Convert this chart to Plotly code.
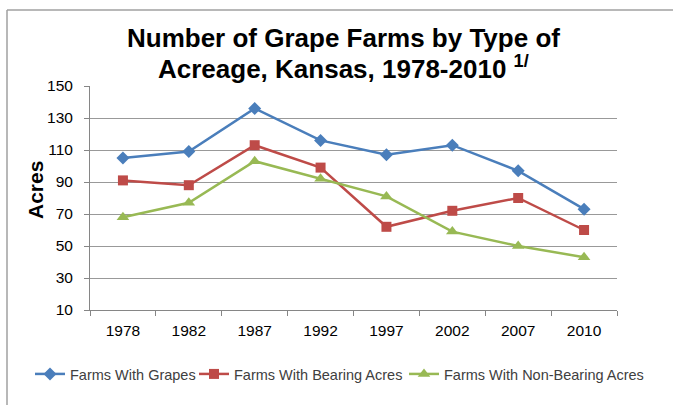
import plotly.graph_objects as go

years = ["1978", "1982", "1987", "1992", "1997", "2002", "2007", "2010"]
farms_with_grapes = [105, 109, 136, 116, 107, 113, 97, 73]
bearing_acres = [91, 88, 113, 99, 62, 72, 80, 60]
non_bearing_acres = [68, 77, 103, 92, 81, 59, 50, 43]

series = [
    ("Farms With Grapes", farms_with_grapes, "#4A7EBB", "diamond", 10, 119),
    ("Farms With Bearing Acres", bearing_acres, "#BE4B48", "square", 10, 165),
    ("Farms With Non-Bearing Acres", non_bearing_acres, "#98B954", "triangle-up", 11, 202),
]

fig = go.Figure()
for name, vals, color, sym, size, lw in series:
    fig.add_trace(go.Scatter(
        x=years, y=vals, name=name, mode="lines+markers",
        line=dict(color=color, width=2.5),
        marker=dict(symbol=sym, size=size, color=color),
        legendwidth=lw,
    ))

L, R, T, B = 90, 56, 86, 95
W, H = 673, 405
pw, ph = W - L - R, H - T - B

def px_to_x(px):
    return (px - L) / pw

def py_to_y(py):
    return (H - B - py) / ph

fig.update_layout(
    width=W, height=H,
    margin=dict(l=L, r=R, t=T, b=B, autoexpand=False),
    paper_bgcolor="white", plot_bgcolor="white",
    font=dict(family="Liberation Sans, Arial, sans-serif", color="#000000"),
    xaxis=dict(
        type="category", tickson="boundaries", ticks="outside", ticklen=5,
        tickcolor="#868686", showline=True, linecolor="#868686", linewidth=1,
        showgrid=False, tickfont=dict(size=15.5, color="#000000"),
        ticklabelstandoff=6,
        range=[-0.5, 7.5],
    ),
    yaxis=dict(
        range=[10, 150], tickvals=[10, 30, 50, 70, 90, 110, 130, 150],
        ticks="outside", ticklen=5, tickcolor="#868686",
        showline=True, linecolor="#868686", linewidth=1,
        showgrid=True, gridcolor="#999999", gridwidth=1, zeroline=False,
        tickfont=dict(size=15.5, color="#000000"),
        ticklabelstandoff=8,
    ),
    legend=dict(
        orientation="h", x=px_to_x(30), xanchor="left",
        y=py_to_y(358), yanchor="top",
        font=dict(size=14.5, color="#404040"), bgcolor="rgba(0,0,0,0)",
        itemwidth=30, tracegroupgap=0,
    ),
    showlegend=True,
)

# title (two lines, placed separately for tighter line spacing)
fig.add_annotation(
    text="<b>Number of Grape Farms by Type of</b>",
    xref="paper", yref="paper", x=px_to_x(343), y=py_to_y(38),
    xanchor="center", yanchor="middle", showarrow=False,
    font=dict(size=26, color="#000000"),
)
fig.add_annotation(
    text="<b>Acreage, Kansas, 1978-2010 <sup>1/</sup></b>",
    xref="paper", yref="paper", x=px_to_x(343), y=py_to_y(67),
    xanchor="center", yanchor="middle", showarrow=False,
    font=dict(size=26, color="#000000"),
)
# y axis title
fig.add_annotation(
    text="<b>Acres</b>", textangle=-90,
    xref="paper", yref="paper", x=px_to_x(35), y=py_to_y(190),
    xanchor="center", yanchor="middle", showarrow=False,
    font=dict(size=21, color="#000000"),
)

# chart border (left and top edges visible in the reference)
fig.add_shape(type="line", xref="paper", yref="paper",
              x0=px_to_x(7), x1=px_to_x(7), y0=py_to_y(410), y1=py_to_y(10),
              line=dict(color="#A0A0A0", width=1.5))
fig.add_shape(type="line", xref="paper", yref="paper",
              x0=px_to_x(7), x1=px_to_x(680), y0=py_to_y(10), y1=py_to_y(10),
              line=dict(color="#A0A0A0", width=1.5))

fig.write_html("out.html")
